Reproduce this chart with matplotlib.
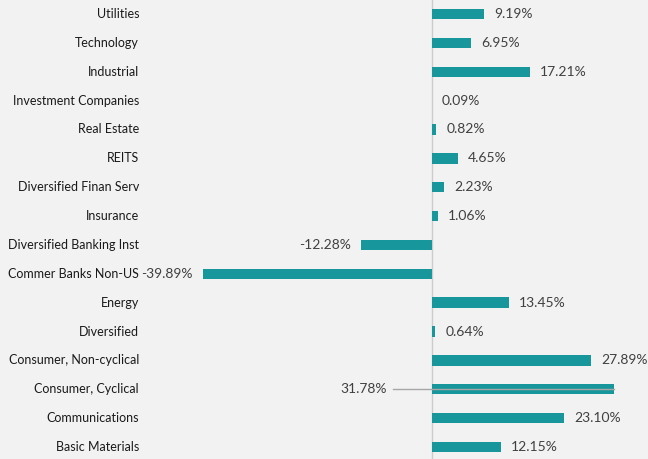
import matplotlib
matplotlib.use("Agg")
import matplotlib.pyplot as plt

categories = ["Utilities", "Technology", "Industrial", "Investment Companies", "Real Estate",
              "REITS", "Diversified Finan Serv", "Insurance", "Diversified Banking Inst",
              "Commer Banks Non-US", "Energy", "Diversified", "Consumer, Non-cyclical",
              "Consumer, Cyclical", "Communications", "Basic Materials"]
values = [9.19, 6.95, 17.21, 0.09, 0.82, 4.65, 2.23, 1.06, -12.28, -39.89, 13.45, 0.64,
          27.89, 31.78, 23.10, 12.15]
labels = [f"{v:.2f}%" for v in values]

plt.rcParams['font.family'] = ['Lato', 'DejaVu Sans']
bg = '#f2f2f2'
fig = plt.figure(figsize=(6.48, 4.59), dpi=100, facecolor=bg)
ax = fig.add_axes([0, 0, 1, 1], facecolor=bg)

px_per = 5.73
zero_px = 431.5
xmin = -zero_px / px_per
xmax = (648 - zero_px) / px_per
ax.set_xlim(xmin, xmax)
step = (447 - 14) / 15
ax.set_ylim((459 - 14) / step, -14 / step)

ys = list(range(len(categories)))
ax.barh(ys, values, height=0.36, color='#17969b', zorder=2)
ax.axvline(0, color='#cccccc', lw=1, zorder=1)

def px2x(p):
    return xmin + p / 648 * (xmax - xmin)

for y, v, lab, cat in zip(ys, values, labels, categories):
    ax.text(139 / 648, y, cat, transform=ax.get_yaxis_transform(), ha='right', va='center',
            fontsize=9, color='#1a1a1a')
    if cat == "Consumer, Cyclical":
        ax.plot([px2x(393), v], [y, y], color='#a6a6a6', lw=1, zorder=3)
        ax.text(px2x(387), y, lab, ha='right', va='center', fontsize=10, color='#404040')
    elif v >= 0:
        ax.text(v + 10 / px_per, y, lab, ha='left', va='center', fontsize=10, color='#404040')
    else:
        ax.text(v - 10 / px_per, y, lab, ha='right', va='center', fontsize=10, color='#404040')

ax.axis('off')
fig.savefig("out.png", dpi=100, facecolor=bg)
